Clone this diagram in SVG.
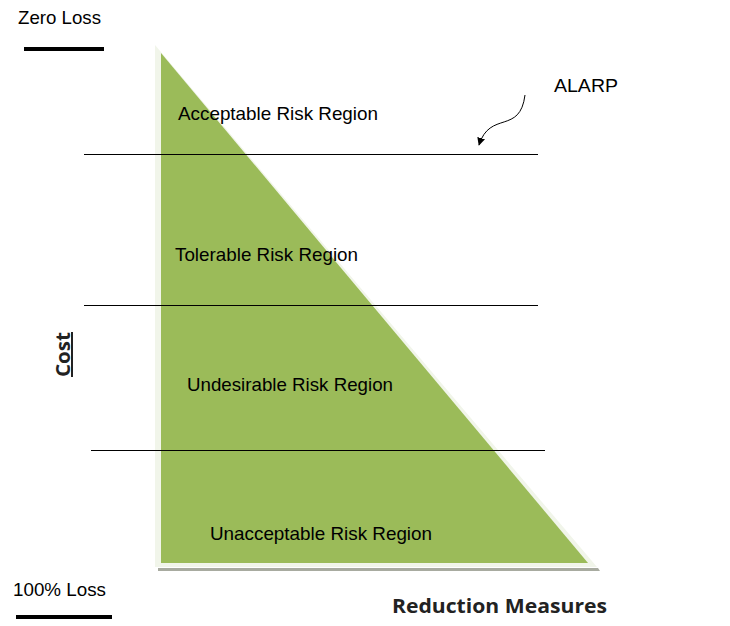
<svg xmlns="http://www.w3.org/2000/svg" width="730" height="626" viewBox="0 0 730 626">
<style>
.lbl{font-family:"Liberation Sans",Arial,sans-serif;font-size:18.5px;fill:#000}
.bold{font-family:"Open Sans","Liberation Sans",sans-serif;font-weight:bold;font-size:20px;fill:#222}
.hl{stroke:#000;stroke-width:1.2}
</style>
<defs>
<marker id="ah" viewBox="0 0 10 10" refX="9" refY="5" markerWidth="8" markerHeight="8" orient="auto-start-reverse" markerUnits="userSpaceOnUse">
<path d="M0,0 L10,5 L0,10 z" fill="#000"/>
</marker>
</defs>
<rect width="730" height="626" fill="#fff"/>
<g id="triangle">
<polygon points="158,568 598,568 600,571 158,571" fill="#a8aba0"/>
<polygon points="155,45 155,567 597,567" fill="#f1f5ea"/>
<polygon points="161,53 161,563 588,563" fill="#9bbb59"/>
</g>
<g id="connectors">
<line class="hl" x1="84" y1="154.5" x2="538" y2="154.5"/>
<line class="hl" x1="84" y1="305.5" x2="538" y2="305.5"/>
<line class="hl" x1="91" y1="450.5" x2="545" y2="450.5"/>
<path d="M525,95 C520,135 490,110 479,145" fill="none" stroke="#000" stroke-width="1" marker-end="url(#ah)"/>
</g>
<g id="zero-loss">
<text class="lbl" x="18" y="24" textLength="83" lengthAdjust="spacingAndGlyphs">Zero Loss</text>
<rect x="24" y="47" width="80" height="4" fill="#000"/>
</g>
<g id="loss-100">
<text class="lbl" x="13" y="596" textLength="93" lengthAdjust="spacingAndGlyphs">100% Loss</text>
<rect x="16" y="615" width="96" height="4" fill="#000"/>
</g>
<g id="alarp"><text class="lbl" x="554" y="92" textLength="64" lengthAdjust="spacingAndGlyphs">ALARP</text></g>
<g id="acceptable"><text class="lbl" x="178" y="120" textLength="200" lengthAdjust="spacingAndGlyphs">Acceptable Risk Region</text></g>
<g id="tolerable"><text class="lbl" x="175" y="261" textLength="183" lengthAdjust="spacingAndGlyphs">Tolerable Risk Region</text></g>
<g id="undesirable"><text class="lbl" x="187" y="391" textLength="206" lengthAdjust="spacingAndGlyphs">Undesirable Risk Region</text></g>
<g id="unacceptable"><text class="lbl" x="210" y="540" textLength="222" lengthAdjust="spacingAndGlyphs">Unacceptable Risk Region</text></g>
<g id="cost">
<text class="bold" transform="translate(70,377) rotate(-90)" x="0" y="0" textLength="45" lengthAdjust="spacingAndGlyphs" text-decoration="underline">Cost</text>
</g>
<g id="reduction"><text class="bold" x="392" y="613" textLength="215" lengthAdjust="spacingAndGlyphs">Reduction Measures</text></g>
</svg>
